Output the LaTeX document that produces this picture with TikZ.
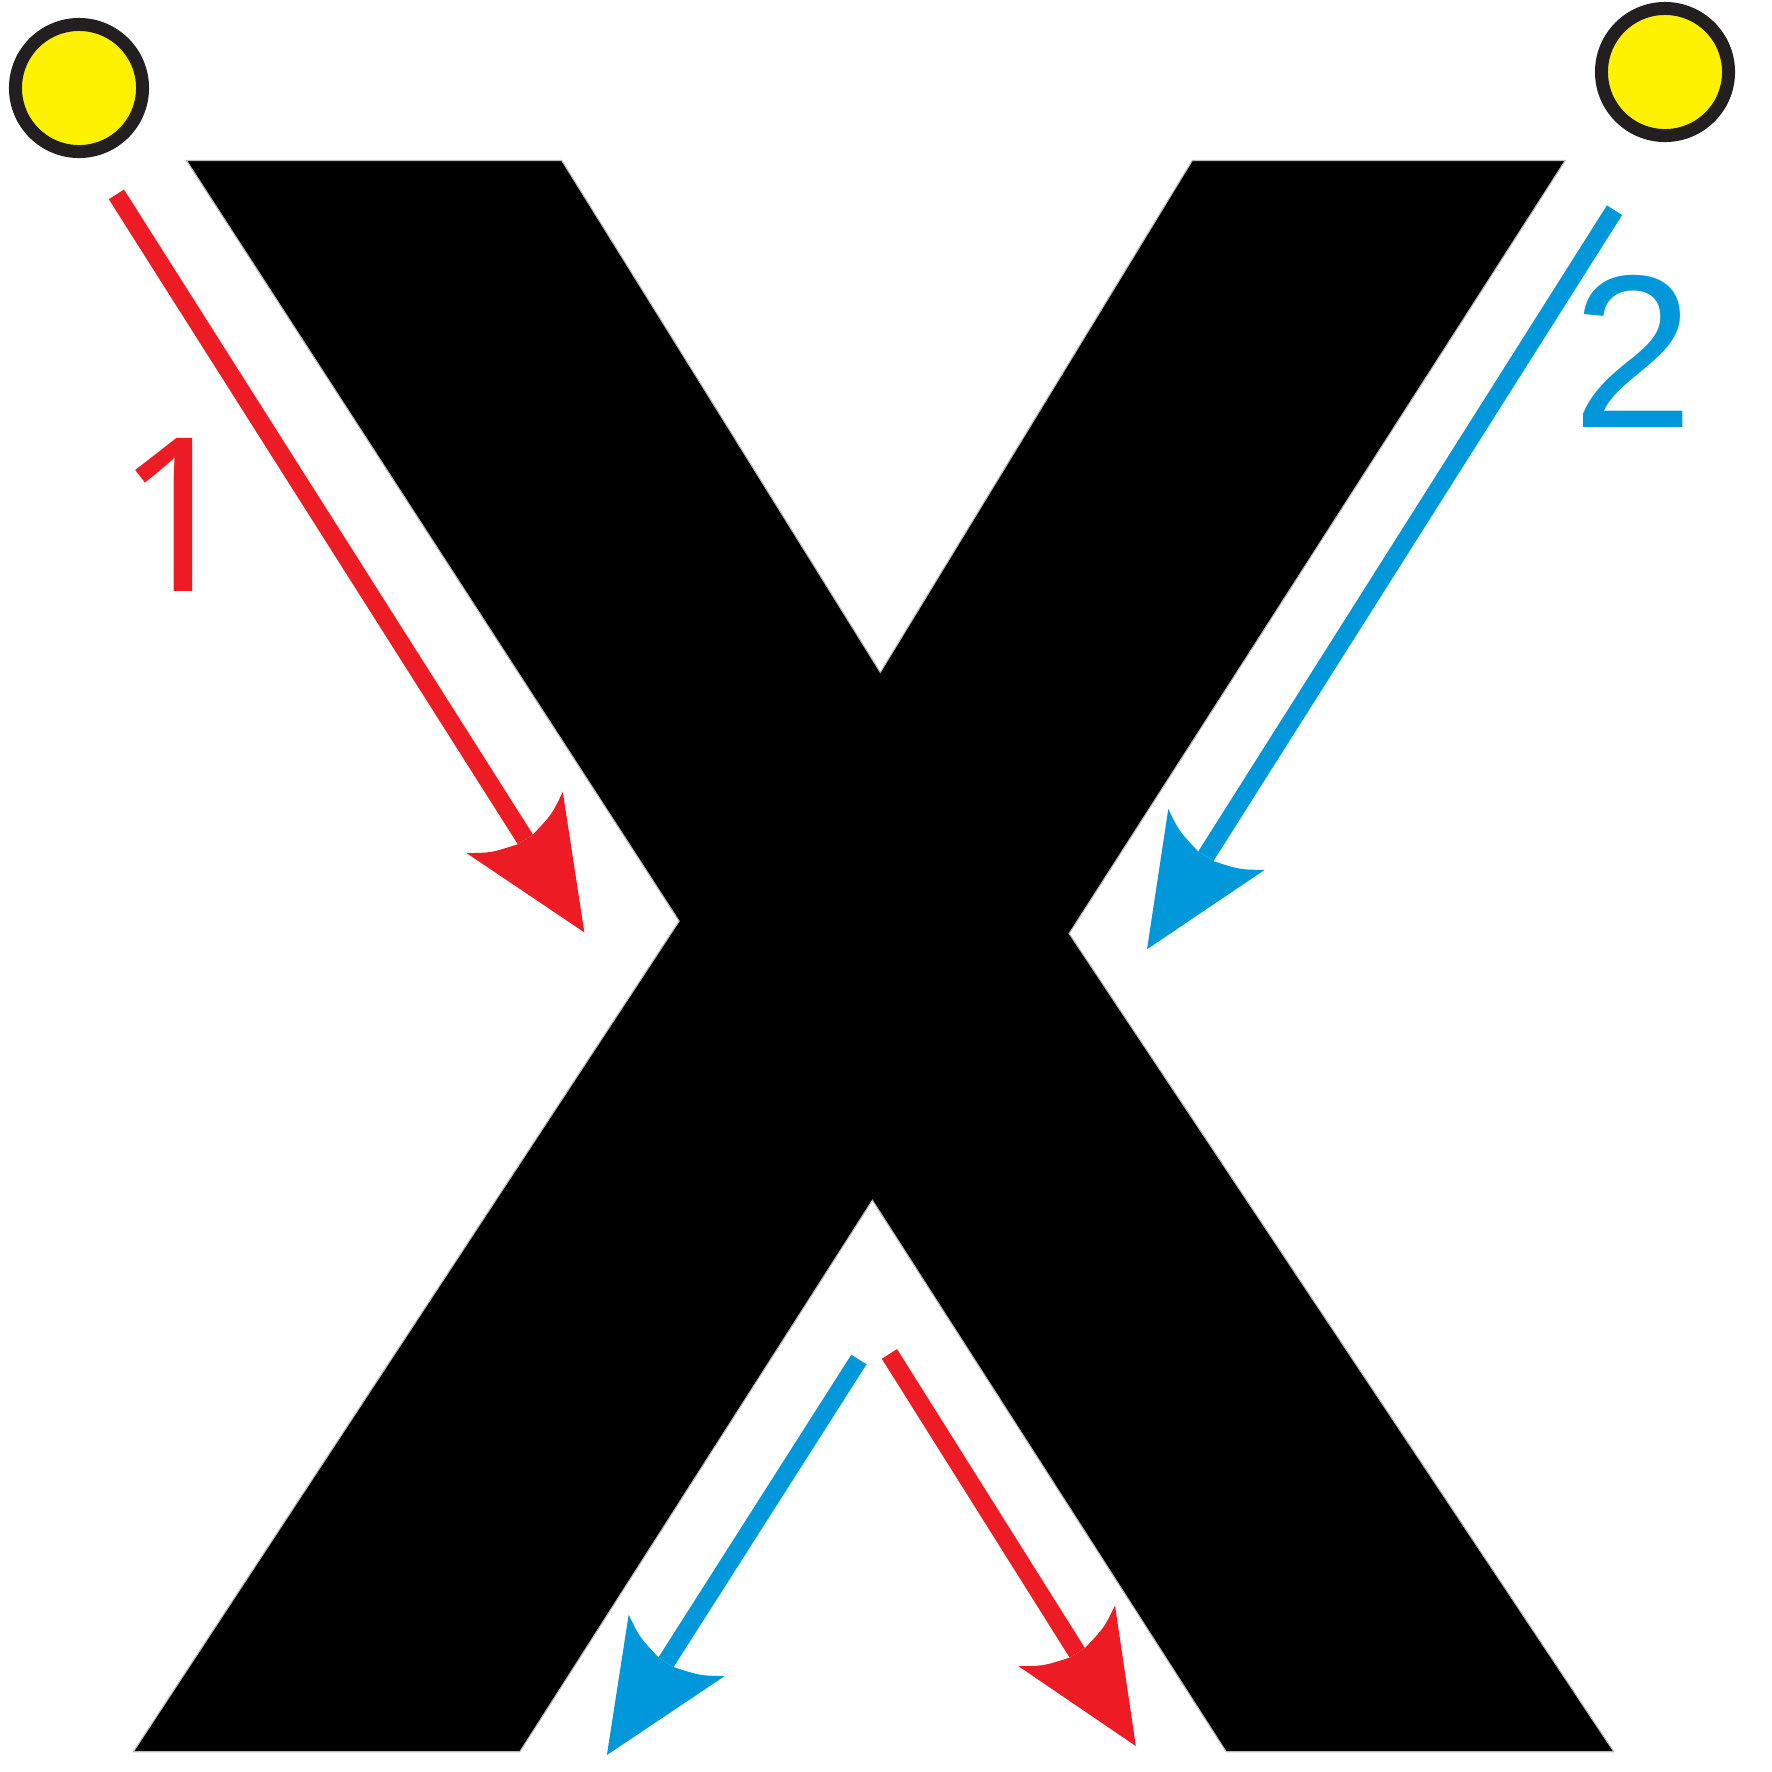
\documentclass[tikz,border=0pt]{standalone}
\usepackage{fontspec}
\newfontfamily\onefont{Noto Sans}
\newfontfamily\twofont{Liberation Sans}
\definecolor{arred}{HTML}{ED1C24}
\definecolor{arblue}{HTML}{0098DA}
\definecolor{dotyellow}{HTML}{FFF200}
\definecolor{dotrim}{HTML}{231F20}
\tikzset{
  shaft/.style={line width=0.18cm, shorten >=1.1cm},
  dot/.style={circle, draw=dotrim, fill=dotyellow, line width=0.13cm, minimum size=1.27cm, inner sep=0pt},
  digit/.style={inner sep=0pt, anchor=center},
  letterx/.style={fill=black, draw=gray!55, line width=0.3pt, line join=miter}
}
\newcommand{\myhead}[3]{%
  \begin{scope}[shift={(#1)}, rotate=#2]
    \fill[#3] (0,0) -- (-130,57) .. controls (-117,36) .. (-110,9) -- (-110,-9)
      .. controls (-117,-36) .. (-130,-57) -- cycle;
  \end{scope}}
\begin{document}
\begin{tikzpicture}[x=0.01cm, y=-0.01cm]
\useasboundingbox (0,0) rectangle (1772,1772);
% the letter X
\draw[letterx] (186.5,160.5) -- (561.7,160.5) -- (880.3,672.4) -- (1192.3,160.5)
  -- (1565.2,160.5) -- (1069.1,933.5) -- (1613.8,1751.7) -- (1226.2,1751.7)
  -- (872.4,1200.2) -- (519.8,1751.7) -- (133.4,1751.7) -- (679.2,921.1) -- cycle;
% yellow dots
\node[dot] (dotL) at (79,88) {};
\node[dot] (dotR) at (1665,72) {};
% arrow coordinates
\coordinate (s1) at (116.4,194.4);  \coordinate (t1) at (584.3,932.3);
\coordinate (s2) at (1614.5,210.2); \coordinate (t2) at (1147,949.3);
\coordinate (s3) at (858.9,1359.5); \coordinate (t3) at (606.9,1755);
\coordinate (s4) at (889.4,1353.9); \coordinate (t4) at (1135.8,1746);
% shafts
\draw[shaft, arred] (s1) -- (t1);
\draw[shaft, arblue] (s2) -- (t2);
\draw[shaft, arblue] (s3) -- (t3);
\draw[shaft, arred] (s4) -- (t4);
% heads
\myhead{t1}{-57.6}{arred}
\myhead{t2}{-122.3}{arblue}
\myhead{t3}{-122.5}{arblue}
\myhead{t4}{-57.9}{arred}
% labels
\node[digit, text=arred, font=\onefont\fontsize{61}{61}\selectfont] (lab1) at (177.5,515) {1};
\node[digit, text=arblue, font=\twofont\fontsize{62}{62}\selectfont] (lab2) at (1633,351.5) {2};
\end{tikzpicture}
\end{document}
